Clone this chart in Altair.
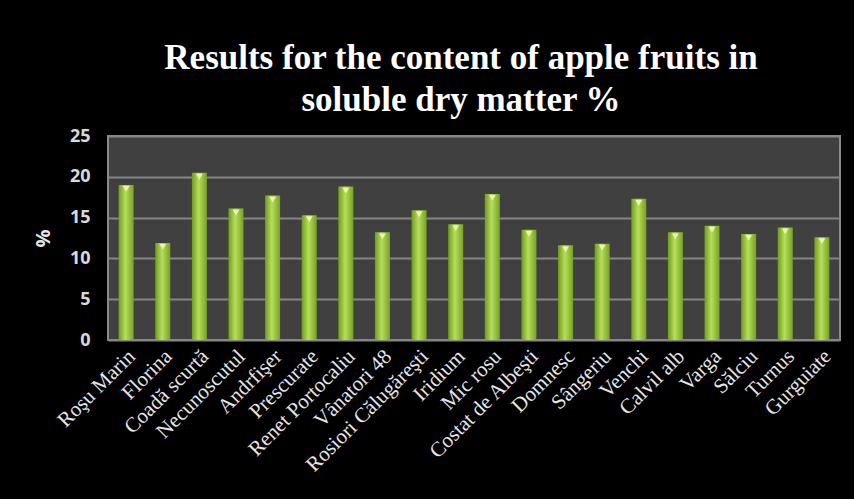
import altair as alt
import pandas as pd

varieties = [
    "Roşu Marin", "Florina", "Coadă scurtă", "Necunoscutul", "Andrfişer",
    "Prescurate", "Renet Portocaliu", "Vânatori 48", "Rosiori Călugăreşti",
    "Iridium", "Mic rosu", "Costat de Albeşti", "Domnesc", "Sângeriu",
    "Venchi", "Calvil alb", "Varga", "Sălciu", "Turnus", "Gurguiate",
]
dry_matter = [
    19.0, 11.9, 20.5, 16.1, 17.7, 15.3, 18.8, 13.2, 15.9, 14.2,
    17.9, 13.5, 11.6, 11.8, 17.3, 13.2, 14.0, 13.0, 13.8, 12.6,
]

df = pd.DataFrame({"variety": varieties, "value": dry_matter})

x_enc = alt.X(
    "variety:N",
    sort=varieties,
    title=None,
    scale=alt.Scale(paddingInner=0.59, paddingOuter=0.29),
    axis=alt.Axis(
        labelAngle=-45,
        labelAlign="right",
        labelBaseline="middle",
        labelFont="Liberation Serif",
        labelFontSize=21,
        labelColor="#e6e6e6",
        labelPadding=13,
        labelOffset=6,
        ticks=False,
        domain=False,
        labelOverlap=False,
    ),
)
y_enc = alt.Y(
    "value:Q",
    title="%",
    scale=alt.Scale(domain=[0, 25], nice=False),
    axis=alt.Axis(
        values=[0, 5, 10, 15, 20, 25],
        labelFont="Open Sans",
        labelFontSize=18,
        labelFontWeight="bold",
        labelColor="#d9d9d9",
        labelPadding=18,
        ticks=False,
        domain=False,
        grid=True,
        gridColor="#858585",
        gridWidth=2,
        titleFont="Open Sans",
        titleFontSize=20,
        titleFontWeight="bold",
        titleColor="#e6e6e6",
        titlePadding=16,
    ),
)

bar_fill = alt.Gradient(
    gradient="linear",
    x1=0, x2=1, y1=0, y2=0,
    stops=[
        alt.GradientStop(offset=0, color="#6f9b20"),
        alt.GradientStop(offset=0.45, color="#b6de5a"),
        alt.GradientStop(offset=1, color="#76a224"),
    ],
)

bars = alt.Chart(df).mark_bar(color=bar_fill).encode(x=x_enc, y=y_enc)

caps = alt.Chart(df).mark_point(
    shape="triangle-down", filled=True, size=45, color="#eaf6b0", opacity=1, yOffset=4
).encode(x=alt.X("variety:N", sort=varieties), y=alt.Y("value:Q"))

chart = (
    alt.layer(bars, caps)
    .properties(
        width=732,
        height=204,
        background="#000000",
        padding={"left": 108, "top": 136, "right": 14, "bottom": 159},
        autosize=alt.AutoSizeParams(type="none"),
        title=alt.TitleParams(
            text=["Results for the content of apple fruits in", "soluble dry matter %"],
            font="Liberation Serif",
            fontSize=35,
            fontWeight="bold",
            color="#ffffff",
            anchor="middle",
            dx=-13,
            offset=9,
            lineHeight=42,
        ),
    )
    .configure_view(fill="#404040", stroke="#8a8a8a", strokeWidth=2)
)

chart.save("out.html", embed_options={"renderer": "svg", "actions": False})
